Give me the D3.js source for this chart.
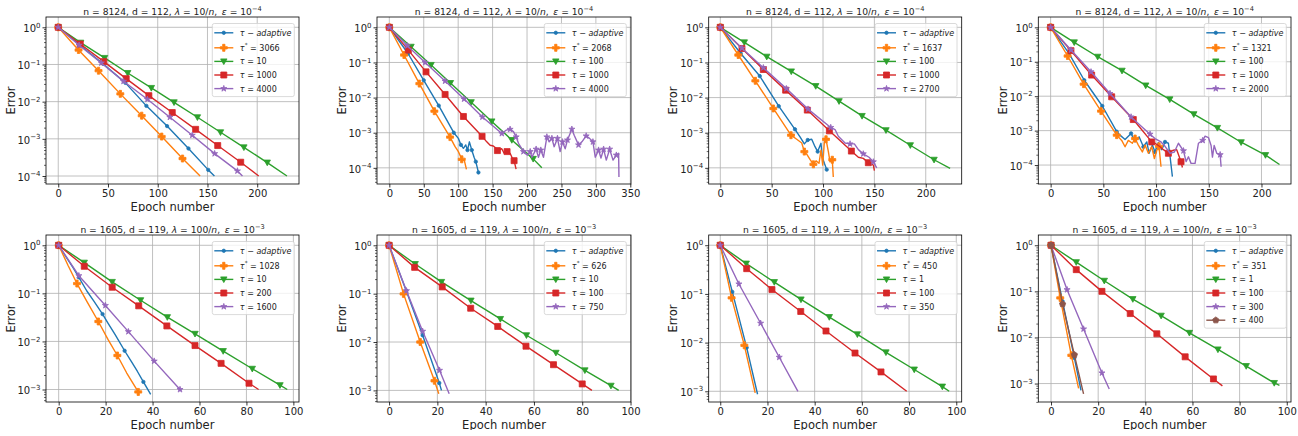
<!DOCTYPE html>
<html lang="en">
<head>
<meta charset="UTF-8">
<title>Error vs epoch number</title>
<script src="https://d3js.org/d3.v7.min.js"></script>
<style>
  body { margin: 0; background: #fff; }
  svg { display: block; font-family: "DejaVu Sans", sans-serif; }
</style>
</head>
<body>
<svg id="fig" width="1298" height="436"></svg>
<script>
// ---- data: each series is a list of [epoch, error, marker?] ----
// order in every panel: adaptive, tau*, then the fixed taus
const panel1 = [
  [[0,1,1],[22,0.33,1],[45,0.105,1],[67.5,0.032,1],[88.6,0.0077,1],[109.4,0.0022,1],[130.9,5.5e-4,1],[150.8,1.46e-4,1],[157,1.0e-4]],
  [[0,1,1],[20.4,0.245,1],[40.5,0.068,1],[62.4,0.0162,1],[83.9,0.0042,1],[104,0.00115,1],[124.9,2.95e-4,1],[142.6,1.0e-4]],
  [[0,1,1],[22.5,0.386,1],[46.6,0.15,1],[69.8,0.059,1],[93.6,0.0234,1],[116.4,0.0096,1],[139.9,0.0038,1],[163.1,0.0015,1],[186.6,5.9e-4,1],[210.1,2.3e-4,1],[229.9,1.0e-4]],
  [[0,1,1],[22.1,0.356,1],[45.8,0.119,1],[68.3,0.0416,1],[91.1,0.0145,1],[114.6,0.0051,1],[138.1,0.0018,1],[160.3,6.6e-4,1],[183.4,2.35e-4,1],[201.5,1.0e-4]],
  [[0,1,1],[21,0.33,1],[43.3,0.11,1],[65.6,0.0353,1],[89.6,0.0116,1],[112.2,0.0038,1],[134.7,0.00125,1],[157.2,4.0e-4,1],[180.1,1.37e-4,1],[185.2,1.0e-4]]
];
const panel2 = [
  [[0,1,1],[27.2,0.18,1],[50,0.031,1],[71.8,0.0059,1],[93.6,0.001,1],[100.3,6.9e-4],[104,4.5e-4,1],[107.6,3.6e-4],[111,4.5e-4],[113.5,3.2e-4,1],[116.3,5.5e-4],[119.8,3.2e-4,1],[123.1,2.0e-4],[125.6,1.5e-4,1],[129.4,7.4e-5,1]],
  [[0,1,1],[21.4,0.163,1],[43.6,0.025,1],[65.4,0.0041,1],[88.2,7.5e-4,1],[95.5,4.0e-4],[100.3,2.9e-4],[105.2,1.75e-4,1],[109,1.6e-4],[112,9.0e-5]],
  [[0,1,1],[31.5,0.28,1],[60.6,0.085,1],[88.7,0.026,1],[118.8,0.0074,1],[148.8,0.0021,1],[177.9,6.2e-4,1],[208.9,1.8e-4,1],[221.5,1.0e-4]],
  [[0,1,1],[27.6,0.225,1],[53.3,0.054,1],[81,0.0123,1],[107.6,0.0029,1],[134.7,7.9e-4,1],[141.5,5.5e-4],[146.4,4.4e-4],[151,4.2e-4],[155.1,3.6e-4],[157,3.1e-4,1],[160,3.3e-4],[163.3,3.5e-4],[166.7,2.6e-4],[171,2.9e-4,1],[175.4,2.6e-4],[178,2.0e-4],[181.2,1.6e-4,1],[184.1,9.2e-5]],
  [[0,1,1],[26.2,0.3,1],[52,0.1,1],[81,0.0295,1],[108.6,0.0091,1],[135.2,0.0028,1],[163.4,9.5e-4,1],[169.6,1.18e-3],[175.4,1.25e-3,1],[180.3,1.07e-3],[184.2,7.6e-4,1],[187.6,5.0e-4],[194.8,2.9e-4,1],[200.6,2.3e-4],[204.6,2.9e-4,1],[207,2.0e-4],[213.2,3.4e-4,1],[216.6,2.0e-4],[220,3.2e-4,1],[223.9,2.0e-4],[228.8,7.6e-4,1],[232.2,5.5e-4],[236.1,6.9e-4,1],[239.4,4.0e-4],[244.2,6.9e-4,1],[248.1,2.9e-4],[251.5,5.5e-4,1],[255.4,3.5e-4],[258.7,6.2e-4,1],[265.1,1.26e-3,1],[268.5,8.5e-4],[274.8,4.5e-4,1],[279.7,5.5e-4],[285.9,8.1e-4,1],[290.8,6.9e-4],[295.7,5.5e-4,1],[299.1,2.0e-4],[303.9,3.2e-4,1],[307.4,1.9e-4],[311.2,3.4e-4,1],[315.1,1.66e-4],[320,3.4e-4,1],[324.9,1.66e-4],[329.7,2.3e-4,1],[333,2.6e-4],[333.5,5.5e-5]]
];
const panel3 = [
  [[0,1,1],[19.9,0.18,1],[38.4,0.041,1],[56.9,0.0057,1],[72.7,1.25e-3,1],[77.6,7.6e-4],[81.8,4.8e-4],[85.1,6.2e-4,1],[89,6.5e-4],[92.2,4.0e-4],[94.8,2.9e-4,1],[98,5.0e-4],[99.3,2.0e-4],[101.3,1.35e-4],[103.6,8.9e-5,1]],
  [[0,1,1],[17.5,0.163,1],[34.1,0.03,1],[51.6,0.0049,1],[68.8,8.5e-4,1],[74.4,6.5e-4],[79.3,5.1e-4],[81.8,2.9e-4,1],[84.1,2.45e-4],[87.3,1.74e-4],[90.6,1.26e-4,1],[93.2,1.58e-4],[96.1,1.35e-4],[98,3.2e-4],[99.7,1.2e-4],[101.3,5.5e-4],[102.9,6.5e-4,1],[105.2,2.9e-4],[106.8,1.48e-4],[109,1.7e-4,1],[110,5.5e-5]],
  [[0,1,1],[23.4,0.373,1],[45.2,0.146,1],[69.1,0.0556,1],[92.9,0.0213,1],[115.6,0.0079,1],[138,0.003,1],[161.3,1.18e-3,1],[185,4.4e-4,1],[208.1,1.7e-4,1],[223.7,9.6e-5]],
  [[0,1,1],[21.1,0.25,1],[41.9,0.063,1],[63.6,0.0163,1],[84.7,0.0044,1],[106.2,1.13e-3,1],[127.6,3.0e-4,1],[134.4,2.0e-4],[139.2,1.86e-4],[144.1,1.4e-4,1],[149,1.2e-4],[150,8.3e-5]],
  [[0,1,1],[21.1,0.255,1],[41.9,0.071,1],[64.3,0.018,1],[85.4,0.0047,1],[107.5,1.41e-3,1],[111.7,1.23e-3],[114.9,7.9e-4],[121.4,5.1e-4],[126.3,4.8e-4,1],[130.5,4.8e-4],[134.4,3.3e-4],[139.2,2.5e-4,1],[144.8,2.0e-4],[149,1.48e-4,1],[152.3,1.0e-4]]
];
const panel4 = [
  [[0,1,1],[17.4,0.175,1],[31.9,0.029,1],[49,0.0052,1],[62.7,9.3e-4,1],[65.8,7.4e-4],[70.6,5.5e-4],[76.3,8.3e-4,1],[80.1,4.7e-4],[83.9,6.6e-4],[88,3.4e-4,1],[91.2,4.7e-4],[93.4,2.2e-4],[96.5,3.8e-4],[99,2.4e-4,1],[102.2,4.5e-4],[105.4,2.8e-4],[108.5,4.7e-4,1],[111.7,4.3e-4],[113.3,1.74e-4],[115.5,4.6e-5]],
  [[0,1,1],[16.1,0.147,1],[31.3,0.0224,1],[47.8,0.0037,1],[62.7,7.4e-4,1],[67.4,5.2e-4],[70.6,3.4e-4],[73.7,5.2e-4],[77.5,4.3e-4],[80.1,5.9e-4,1],[83.2,3.8e-4],[87,2.4e-4],[89.6,3.8e-4],[92.7,2.2e-4],[95.9,3.4e-4],[98.4,1.55e-4],[100.7,2.7e-4],[102.8,3.5e-4,1],[104.7,8.9e-5]],
  [[0,1,1],[22.4,0.366,1],[44.6,0.14,1],[67.7,0.055,1],[90.2,0.0205,1],[113,0.0081,1],[135.8,0.003,1],[158.2,1.2e-3,1],[180.7,4.6e-4,1],[203.8,1.95e-4,1],[217.1,1.04e-4]],
  [[0,1,1],[19.3,0.21,1],[38.9,0.041,1],[57.9,0.0096,1],[78.4,0.0021,1],[95.9,4.7e-4,1],[99,4.3e-4],[103.8,3.4e-4],[107,2.8e-4],[111.7,2.2e-4,1],[116.4,2.7e-4],[119.6,2.8e-4],[123.7,1.25e-4,1],[125,8.5e-5]],
  [[0,1,1],[19.3,0.22,1],[38.3,0.051,1],[56.3,0.012,1],[76.3,0.0025,1],[94.3,7.9e-4,1],[99,5.9e-4],[104.7,4.7e-4],[108.5,3.5e-4],[113.3,2.2e-4],[117.4,2.4e-4],[121.2,4.3e-4],[126,2.6e-4,1],[128.5,1.26e-4],[130.7,1.74e-4],[133.2,1.12e-4],[137,1.12e-4],[140.2,4.3e-4],[144.3,5.2e-4,1],[146.5,6.9e-4],[149.7,6.3e-4],[152.2,3.7e-4],[153.5,1.7e-4],[155.1,3.7e-4],[157.6,2.2e-4],[160.8,2.0e-4,1],[161.7,8.9e-5]]
];
const panel5 = [
  [[0,1,1],[3,0.59],[6,0.35],[8.6,0.216,1],[12,0.112],[15,0.069],[18.7,0.037,1],[21,0.024],[24,0.014],[28.1,0.0064,1],[31,0.0038],[33.5,0.0024],[36.1,1.44e-3,1],[39.2,7.9e-4]],
  [[0,1,1],[4,0.38],[7.8,0.16,1],[12,0.068],[16.9,0.026,1],[21,0.011],[25,0.0051,1],[29,0.0022],[33.9,8.9e-4,1],[34.5,8.5e-4]],
  [[0,1,1],[10.9,0.435,1],[22.8,0.173,1],[34.9,0.072,1],[46.3,0.032,1],[58.1,0.0144,1],[70.1,0.0063,1],[82.5,0.0027,1],[94.3,1.23e-3,1],[97.4,1.0e-3]],
  [[0,1,1],[10.9,0.366,1],[22.8,0.134,1],[34.1,0.055,1],[46.1,0.021,1],[58.1,0.0082,1],[69.2,0.0035,1],[81.1,1.35e-3,1],[85.2,1.0e-3]],
  [[0,1,1],[8.6,0.233,1],[19.9,0.056,1],[29.7,0.016,1],[40.7,0.0039,1],[51.7,1.0e-3,1]]
];
const panel6 = [
  [[0,1,1],[7.1,0.115,1],[13.9,0.0138,1],[20.8,1.42e-3,1],[21.7,1.0e-3]],
  [[0,1,1],[6,0.099,1],[12.9,0.01,1],[18.8,1.58e-3,1],[20.6,8.5e-4]],
  [[0,1,1],[10.8,0.41,1],[21.7,0.175,1],[33.9,0.072,1],[46.1,0.03,1],[56.9,0.0138,1],[69.1,0.006,1],[81.1,0.0026,1],[91.9,1.25e-3,1],[95.1,1.0e-3]],
  [[0,1,1],[10.6,0.35,1],[22,0.138,1],[33.8,0.05,1],[45,0.021,1],[56.7,0.0082,1],[68.1,0.0034,1],[80,1.36e-3,1],[84,1.0e-3]],
  [[0,1,1],[7.2,0.115,1],[13.9,0.0167,1],[20.9,0.0026,1],[24.9,8.5e-4]]
];
const panel7 = [
  [[0,1,1],[5.1,0.11,1],[11.2,0.0079,1],[15.8,8.7e-4]],
  [[0,1,1],[4.8,0.083,1],[10.2,0.0088,1],[14.8,9.3e-4]],
  [[0,1,1],[11,0.42,1],[22.9,0.175,1],[34.2,0.077,1],[46.2,0.0335,1],[58.1,0.0148,1],[70.2,0.0063,1],[82.2,0.0028,1],[94.1,1.25e-3,1],[97,1.0e-3]],
  [[0,1,1],[11.2,0.33,1],[21.9,0.123,1],[34.1,0.0436,1],[44.8,0.0173,1],[57.1,0.0061,1],[68.1,0.0025,1],[79,1.0e-3]],
  [[0,1,1],[7.9,0.16,1],[17.1,0.025,1],[25,0.005,1],[32.9,1.0e-3]]
];
const panel8 = [
  [[0,1,1],[4.9,0.061,1],[9.9,0.0036,1],[12.7,7.1e-4]],
  [[0,1,1],[3.9,0.072,1],[8.6,0.0041,1],[11.7,7.9e-4]],
  [[0,1,1],[10.7,0.43,1],[22.6,0.17,1],[34.7,0.068,1],[46.7,0.0297,1],[58.7,0.0126,1],[70.8,0.0055,1],[82.8,0.0024,1],[94.7,1.03e-3,1],[96.9,9.1e-4]],
  [[0,1,1],[10.7,0.296,1],[21.6,0.1,1],[33.6,0.033,1],[44.9,0.012,1],[56.9,0.0038,1],[68.9,1.26e-3,1],[72.7,8.9e-4]],
  [[0,1,1],[6.8,0.109,1],[13.8,0.0153,1],[21.6,0.0017,1],[24.7,7.6e-4]],
  [[0,1,1],[4.9,0.053,1],[9.9,0.0042,1],[13.8,6.0e-4]]
];

const tauStar = [3066, 2068, 1637, 1321, 1028, 626, 450, 351];
const tauFixed = [[10,1000,4000],[100,1000,4000],[100,1000,2700],[100,1000,2000],
                  [10,200,1600],[10,100,750],[1,100,350],[1,100,300,400]];
const rowInfo = [{n: 8124, d: 112, lam: "10", eps: "−4"}, {n: 1605, d: 119, lam: "100", eps: "−3"}];
const xTicksTop = [0, 50, 100, 150, 200];
const xTicksWide = [0, 50, 100, 150, 200, 250, 300, 350];
const xTicksBottom = [0, 20, 40, 60, 80, 100];

// ---- layout ----
const panels = [panel1, panel2, panel3, panel4, panel5, panel6, panel7, panel8];
const colX = [0, 325, 650, 975], rowY = [0, 218];
const axL = [46, 52, 58.7, 63.3], axR = [299, 306, 311.7, 316];
const axT = 17, axB = 184;
const xDom = [[-12.3,242],[-17.9,351],[-11.3,235],[-11.7,228],[-5.4,102.4],[-5,100.2],[-4.9,102.3],[-5.4,101.8]];
const yExp = [[0.277,-4.215],[0.294,-4.46],[0.294,-4.46],[0.3,-4.55],[0.214,-3.26],[0.213,-3.24],[0.21,-3.22],[0.223,-3.4]];
const colors = ["#1f77b4", "#ff7f0e", "#2ca02c", "#d62728", "#9467bd", "#8c564b"];
const markerType = ["dot", "plus", "tri", "square", "star", "pent"];

function markerPath(type) {
  const poly = pts => "M" + pts.map(p => p[0].toFixed(2) + "," + p[1].toFixed(2)).join("L") + "Z";
  if (type === "dot") { const r = 1.7; return `M${r},0A${r},${r} 0 1 1 ${-r},0A${r},${r} 0 1 1 ${r},0Z`; }
  if (type === "plus") {
    const a = 3.5, t = 1.17;
    return poly([[-t,-a],[t,-a],[t,-t],[a,-t],[a,t],[t,t],[t,a],[-t,a],[-t,t],[-a,t],[-a,-t],[-t,-t]]);
  }
  if (type === "tri") return poly([[0,3.2],[-3.2,-2.5],[3.2,-2.5]]);
  if (type === "square") return poly([[-3,-3],[3,-3],[3,3],[-3,3]]);
  if (type === "star") {
    const pts = [];
    for (let k = 0; k < 10; k++) {
      const r = k % 2 ? 1.25 : 3.2, a = -Math.PI / 2 + k * Math.PI / 5;
      pts.push([r * Math.cos(a), r * Math.sin(a)]);
    }
    return poly(pts);
  }
  const pts = [];
  for (let k = 0; k < 5; k++) { const a = -Math.PI / 2 + k * 2 * Math.PI / 5; pts.push([3.3 * Math.cos(a), 3.3 * Math.sin(a)]); }
  return poly(pts);
}

// text made of parts: [string, "i" | "sup" | ""]
function richText(sel, parts, supSize, supRise) {
  let raised = false;
  parts.forEach(([s, kind]) => {
    const t = sel.append("tspan").text(s);
    if (kind === "i") t.attr("font-style", "italic");
    if (kind === "sup") { t.attr("font-size", supSize).attr("dy", -supRise); raised = true; }
    else if (raised) { t.attr("dy", supRise); raised = false; }
  });
}

const svg = d3.select("#fig");
const defs = svg.append("defs");

panels.forEach((series, i) => {
  const col = i % 4, row = Math.floor(i / 4);
  const L = axL[col], R = axR[col];
  const info = rowInfo[row];

  defs.append("clipPath").attr("id", "pc" + i)
    .append("rect").attr("width", 325).attr("height", 212);
  defs.append("clipPath").attr("id", "ac" + i)
    .append("rect").attr("x", L).attr("y", axT).attr("width", R - L).attr("height", axB - axT);

  const g = svg.append("g")
    .attr("transform", `translate(${colX[col]},${rowY[row]})`)
    .attr("clip-path", `url(#pc${i})`);

  const x = d3.scaleLinear().domain(xDom[i]).range([L, R]);
  const y = d3.scaleLog().domain([Math.pow(10, yExp[i][0]), Math.pow(10, yExp[i][1])]).range([axT, axB]);

  const xt = row === 1 ? xTicksBottom : (i === 1 ? xTicksWide : xTicksTop);
  const lowExp = Math.ceil(yExp[i][1]);
  const majors = d3.range(0, lowExp - 1, -1).map(e => Math.pow(10, e));
  const minors = [];
  for (let e = 0; e >= Math.floor(yExp[i][1]); e--) {
    for (let m = 2; m <= 9; m++) {
      const v = m * Math.pow(10, e - 1);
      if (Math.log10(v) <= yExp[i][0] && Math.log10(v) >= yExp[i][1]) minors.push(v);
    }
  }

  // grid
  g.append("g").selectAll("line").data(xt).join("line")
    .attr("x1", d => x(d)).attr("x2", d => x(d)).attr("y1", axT).attr("y2", axB)
    .attr("stroke", "#b0b0b0").attr("stroke-width", 0.8);
  g.append("g").selectAll("line").data(majors).join("line")
    .attr("x1", L).attr("x2", R).attr("y1", d => y(d)).attr("y2", d => y(d))
    .attr("stroke", "#b0b0b0").attr("stroke-width", 0.8);

  // series
  const plot = g.append("g").attr("clip-path", `url(#ac${i})`);
  const line = d3.line().x(d => x(d[0])).y(d => y(d[1]));
  series.forEach((pts, s) => {
    plot.append("path").datum(pts).attr("d", line)
      .attr("fill", "none").attr("stroke", colors[s]).attr("stroke-width", 1.4)
      .attr("stroke-linejoin", "round");
    plot.append("g").selectAll("path").data(pts.filter(p => p[2])).join("path")
      .attr("transform", d => `translate(${x(d[0])},${y(d[1])})`)
      .attr("d", markerPath(markerType[s]))
      .attr("fill", colors[s]).attr("stroke", colors[s]).attr("stroke-width", 0.8);
  });

  // spines
  g.append("rect").attr("x", L).attr("y", axT).attr("width", R - L).attr("height", axB - axT)
    .attr("fill", "none").attr("stroke", "#000").attr("stroke-width", 0.8);

  // axes
  const xa = g.append("g").attr("transform", `translate(0,${axB})`)
    .call(d3.axisBottom(x).tickValues(xt).tickSize(3.5).tickPadding(2).tickFormat(d3.format("d")));
  const ya = g.append("g").attr("transform", `translate(${L},0)`)
    .call(d3.axisLeft(y).tickValues(majors).tickSize(3.5).tickPadding(2).tickFormat(() => ""));
  const ym = g.append("g").attr("transform", `translate(${L},0)`)
    .call(d3.axisLeft(y).tickValues(minors).tickSize(2).tickFormat(() => ""));
  [xa, ya, ym].forEach(a => {
    a.attr("font-family", null).attr("font-size", 10);
    a.select(".domain").remove();
    a.selectAll(".tick line").attr("stroke", "#000").attr("stroke-width", 0.8);
    a.selectAll(".tick text").attr("fill", "#222");
  });
  ym.selectAll(".tick line").attr("stroke-width", 0.6);
  ya.selectAll(".tick text").each(function (d) {
    const e = Math.round(Math.log10(d));
    const t = d3.select(this).text(null).attr("dy", "0.42em");
    richText(t, [["10", ""], [e === 0 ? "0" : "−" + (-e), "sup"]], 7, 4.5);
  });

  // labels
  g.append("text").attr("x", (L + R) / 2).attr("y", 211).attr("text-anchor", "middle")
    .attr("font-size", 11.5).attr("fill", "#222").text("Epoch number");
  g.append("text").attr("transform", `translate(${L - 31.5},${(axT + axB) / 2}) rotate(-90)`)
    .attr("text-anchor", "middle").attr("font-size", 11.5).attr("fill", "#222").text("Error");
  const title = g.append("text").attr("x", (L + R) / 2).attr("y", 14.5)
    .attr("text-anchor", "middle").attr("font-size", 9.2).attr("fill", "#222");
  richText(title, [[`n = ${info.n}, d = ${info.d}, `, ""], ["λ", "i"], [` = ${info.lam}/`, ""], ["n", "i"],
    [",\u2002", ""], ["ε", "i"], [" = 10", ""], [info.eps, "sup"]], 6.6, 3.6);

  // legend
  const labels = [[["τ", "i"], [" − ", ""], ["adaptive", "i"]],
                  [["τ", "i"], ["*", "sup"], [" = " + tauStar[i], ""]]]
    .concat(tauFixed[i].map(v => [["τ", "i"], [" = " + v, ""]]));
  const rowYs = labels.map((_, k) => k === 0 ? 9.3 : 24.3 + (k - 1) * 13.6);
  const lw = 82, lh = rowYs[rowYs.length - 1] + 8;
  const lx = R - 4.7 - lw, ly = axT + 6.5;
  const lg = g.append("g").attr("transform", `translate(${lx},${ly})`);
  lg.append("rect").attr("width", lw).attr("height", lh).attr("rx", 2)
    .attr("fill", "rgba(255,255,255,0.8)").attr("stroke", "#d0d0d0").attr("stroke-width", 0.8);
  labels.forEach((lab, k) => {
    const yy = rowYs[k];
    lg.append("line").attr("x1", 2).attr("x2", 21).attr("y1", yy).attr("y2", yy)
      .attr("stroke", colors[k]).attr("stroke-width", 1.4);
    lg.append("path").attr("transform", `translate(11.5,${yy})`).attr("d", markerPath(markerType[k]))
      .attr("fill", colors[k]).attr("stroke", colors[k]).attr("stroke-width", 0.8);
    const t = lg.append("text").attr("x", 27.5).attr("y", yy + 3).attr("font-size", 8).attr("fill", "#222");
    richText(t, lab, 5.8, 3.4);
  });
});
</script>
</body>
</html>
